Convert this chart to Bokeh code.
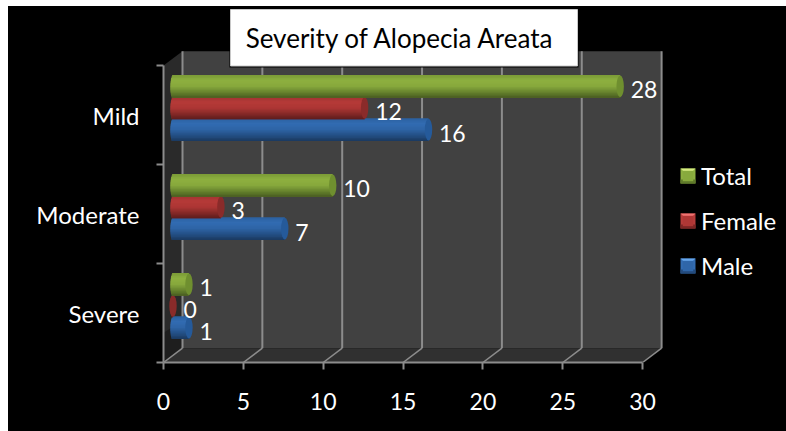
from bokeh.embed import file_html
from bokeh.resources import INLINE
from bokeh.plotting import figure
from bokeh.models import (ColumnDataSource, FixedTicker, Legend, LegendItem, Range1d)
from bokeh.core.properties import value

# Case counts per severity class
categories = ["Severe", "Moderate", "Mild"]
male = [1, 7, 16]
female = [0, 3, 12]
total = [1, 10, 28]
x_ticks = [0, 5, 10, 15, 20, 25, 30]
title_text = "Severity of Alopecia Areata"

# Vertical shading of each cylinder, top edge to bottom edge
green_stops = [(122, 154, 54), (141, 176, 64), (134, 168, 60), (104, 132, 46), (72, 92, 32)]
red_stops = [(158, 52, 50), (182, 58, 56), (172, 54, 52), (136, 42, 40), (92, 28, 28)]
blue_stops = [(44, 96, 160), (50, 108, 178), (46, 100, 166), (36, 80, 134), (26, 56, 94)]
series = [
    ("Male", male, blue_stops, "#255a9a", -1),
    ("Female", female, red_stops, "#8a2b2a", 0),
    ("Total", total, green_stops, "#6f8f2f", 1),
]

FONT = "Lato"
PX_X, PX_Y = 15.97, 99.0           # pixels per data unit
DEPTH_X, DEPTH_Y = 19 / PX_X, 14.3 / PX_Y  # offset of the back wall
BASE = (172.5 - 163) / PX_X        # cylinder axis start, mid depth
LIFT = 7 / PX_Y
PITCH = 21.6 / PX_Y
BAR_H = 22.6 / PX_Y
CAP = 7.4 / PX_X
GRID = "#8c8c8c"

p = figure(width=778, height=425, output_backend="svg", toolbar_location=None,
           x_range=Range1d(0, 623 / PX_X), y_range=Range1d(0, 356 / PX_Y),
           min_border_left=155, min_border_right=0, min_border_top=0, min_border_bottom=69,
           background_fill_color="black", border_fill_color="black", outline_line_color=None)
p.margin = (6, 0, 0, 8)
p.styles = {"background-color": "black"}
p.grid.visible = False

xa, ya = p.xaxis[0], p.yaxis[0]
xa.ticker = FixedTicker(ticks=x_ticks)
xa.bounds = (0, 30)
ya.ticker = FixedTicker(ticks=[i + 0.5 for i in range(3)], minor_ticks=[0, 1, 2, 3])
ya.major_label_overrides = {i + 0.5: c for i, c in enumerate(categories)}
ya.bounds = (0, 3)
for ax in (xa, ya):
    ax.axis_line_color = GRID
    ax.axis_line_width = 2
    ax.major_tick_line_color = GRID
    ax.major_tick_line_width = 2
    ax.major_tick_in = 0
    ax.minor_tick_in = 0
    ax.major_label_text_color = "white"
    ax.major_label_text_font = FONT
xa.major_label_text_font_size = "23px"
ya.major_label_text_font_size = "24px"
xa.major_tick_out = 7
xa.minor_tick_out = 0
xa.major_label_standoff = 23
ya.major_tick_out = 0
ya.minor_tick_out = 7
ya.minor_tick_line_color = GRID
ya.minor_tick_line_width = 2
ya.major_label_standoff = 17

# Walls and floor of the 3D box
top = 3 + DEPTH_Y
p.patch([0, DEPTH_X, DEPTH_X, 0], [0, DEPTH_Y, top, 3], fill_color="#2a2a2a", line_color=None)
p.patch([0, DEPTH_X, DEPTH_X, 0], [0, DEPTH_Y, 0.42, 0.3], fill_color="#1e1e1e", line_color=None)
p.patch([DEPTH_X, 30 + DEPTH_X, 30 + DEPTH_X, DEPTH_X], [DEPTH_Y, DEPTH_Y, top, top],
        fill_color="#414141", line_color=None)
p.patch([0, 30, 30 + DEPTH_X, DEPTH_X], [0, 0, DEPTH_Y, DEPTH_Y], fill_color="#303030", line_color=None)
p.segment([t + DEPTH_X for t in x_ticks], [DEPTH_Y] * 7, [t + DEPTH_X for t in x_ticks], [top] * 7,
          line_color=GRID, line_width=2)
p.segment(x_ticks, [0] * 7, [t + DEPTH_X for t in x_ticks], [DEPTH_Y] * 7, line_color=GRID, line_width=1.5)

# Cylinders: overlapping strips give the shading, an ellipse closes the far end
STRIPS = 15
slot_h = BAR_H / STRIPS
legend_refs = {}
for name, vals, stops, cap_color, slot in series:
    centers = [i + 0.5 + LIFT + slot * PITCH for i in range(3)]
    for k in range(STRIPS):
        t = (k + 0.5) / STRIPS              # 0 at the top edge
        pos = t * (len(stops) - 1)
        lo = min(int(pos), len(stops) - 2)
        f = pos - lo
        rgb = tuple(round(stops[lo][c] * (1 - f) + stops[lo + 1][c] * f) for c in range(3))
        colour = "#%02x%02x%02x" % rgb
        upper = (0.5 - k / STRIPS) * BAR_H
        span = slot_h * (2 if k < STRIPS - 1 else 1)
        round_off = 0.7 * CAP / 2 * (1 - (2 * t - 1) ** 2) ** 0.5
        src = ColumnDataSource(dict(
            y=[c + upper - span / 2 for c in centers],
            left=[BASE - round_off] * 3,
            right=[BASE + v for v in vals],
        ))
        r = p.hbar(y="y", left="left", right="right", height=span, source=src,
                   fill_color=colour, line_color=None)
        if k == 6:
            legend_refs[name] = r
    p.ellipse(x=[BASE + v for v in vals], y=centers, width=CAP, height=BAR_H * 0.96,
              fill_color=cap_color, line_color=None)
    p.text(x=[BASE + v + 10.5 / PX_X for v in vals], y=[c - 3.5 / PX_Y for c in centers],
           text=[str(v) for v in vals], text_color="white", text_font=value(FONT),
           text_font_size="23px", text_align="left", text_baseline="middle")

# Legend; its plain swatches sit under the bevelled tiles drawn below
legend = Legend(items=[LegendItem(label=n, renderers=[legend_refs[n]]) for n in ["Total", "Female", "Male"]],
                location=(518, 82), glyph_width=13, glyph_height=13, spacing=16, padding=0, margin=0,
                label_standoff=7, background_fill_alpha=0, border_line_color=None,
                label_text_color="white", label_text_font=FONT, label_text_font_size="24px")
p.add_layout(legend)

def px(x):
    return (x - 163) / PX_X

def py(y):
    return (362 - y) / PX_Y

tiles = [(168, "#8db040", "#d6ec80", "#5f7a2a"), (213, "#b63c3a", "#f07270", "#7c2625"),
         (258, "#326cb2", "#66a6ec", "#234a7c")]
for top_y, mid, light, dark in tiles:
    p.quad(left=[px(680)], right=[px(695)], top=[py(top_y)], bottom=[py(top_y + 15)],
           fill_color=mid, line_color=None, level="overlay")
    p.patch([px(680), px(695), px(687.5)], [py(top_y), py(top_y), py(top_y + 7)],
            fill_color=light, line_color=None, level="overlay")
    p.patch([px(680), px(695), px(695), px(680)],
            [py(top_y + 11), py(top_y + 11), py(top_y + 15), py(top_y + 15)],
            fill_color=dark, line_color=None, level="overlay")

# Title box
p.quad(left=[px(229)], right=[px(578)], top=[py(8.5)], bottom=[py(67)], fill_color="black",
       line_color=None, level="overlay")
p.quad(left=[px(230)], right=[px(577)], top=[py(9)], bottom=[py(65.5)], fill_color="white",
       line_color="#c8c8c8", line_width=1, level="overlay")
p.text(x=[px(400)], y=[py(37)], text=[title_text], text_color="black", text_font=value(FONT),
       text_font_size="26px", text_align="center", text_baseline="middle", level="overlay")

open("out.html", "w").write(file_html(p, INLINE))
